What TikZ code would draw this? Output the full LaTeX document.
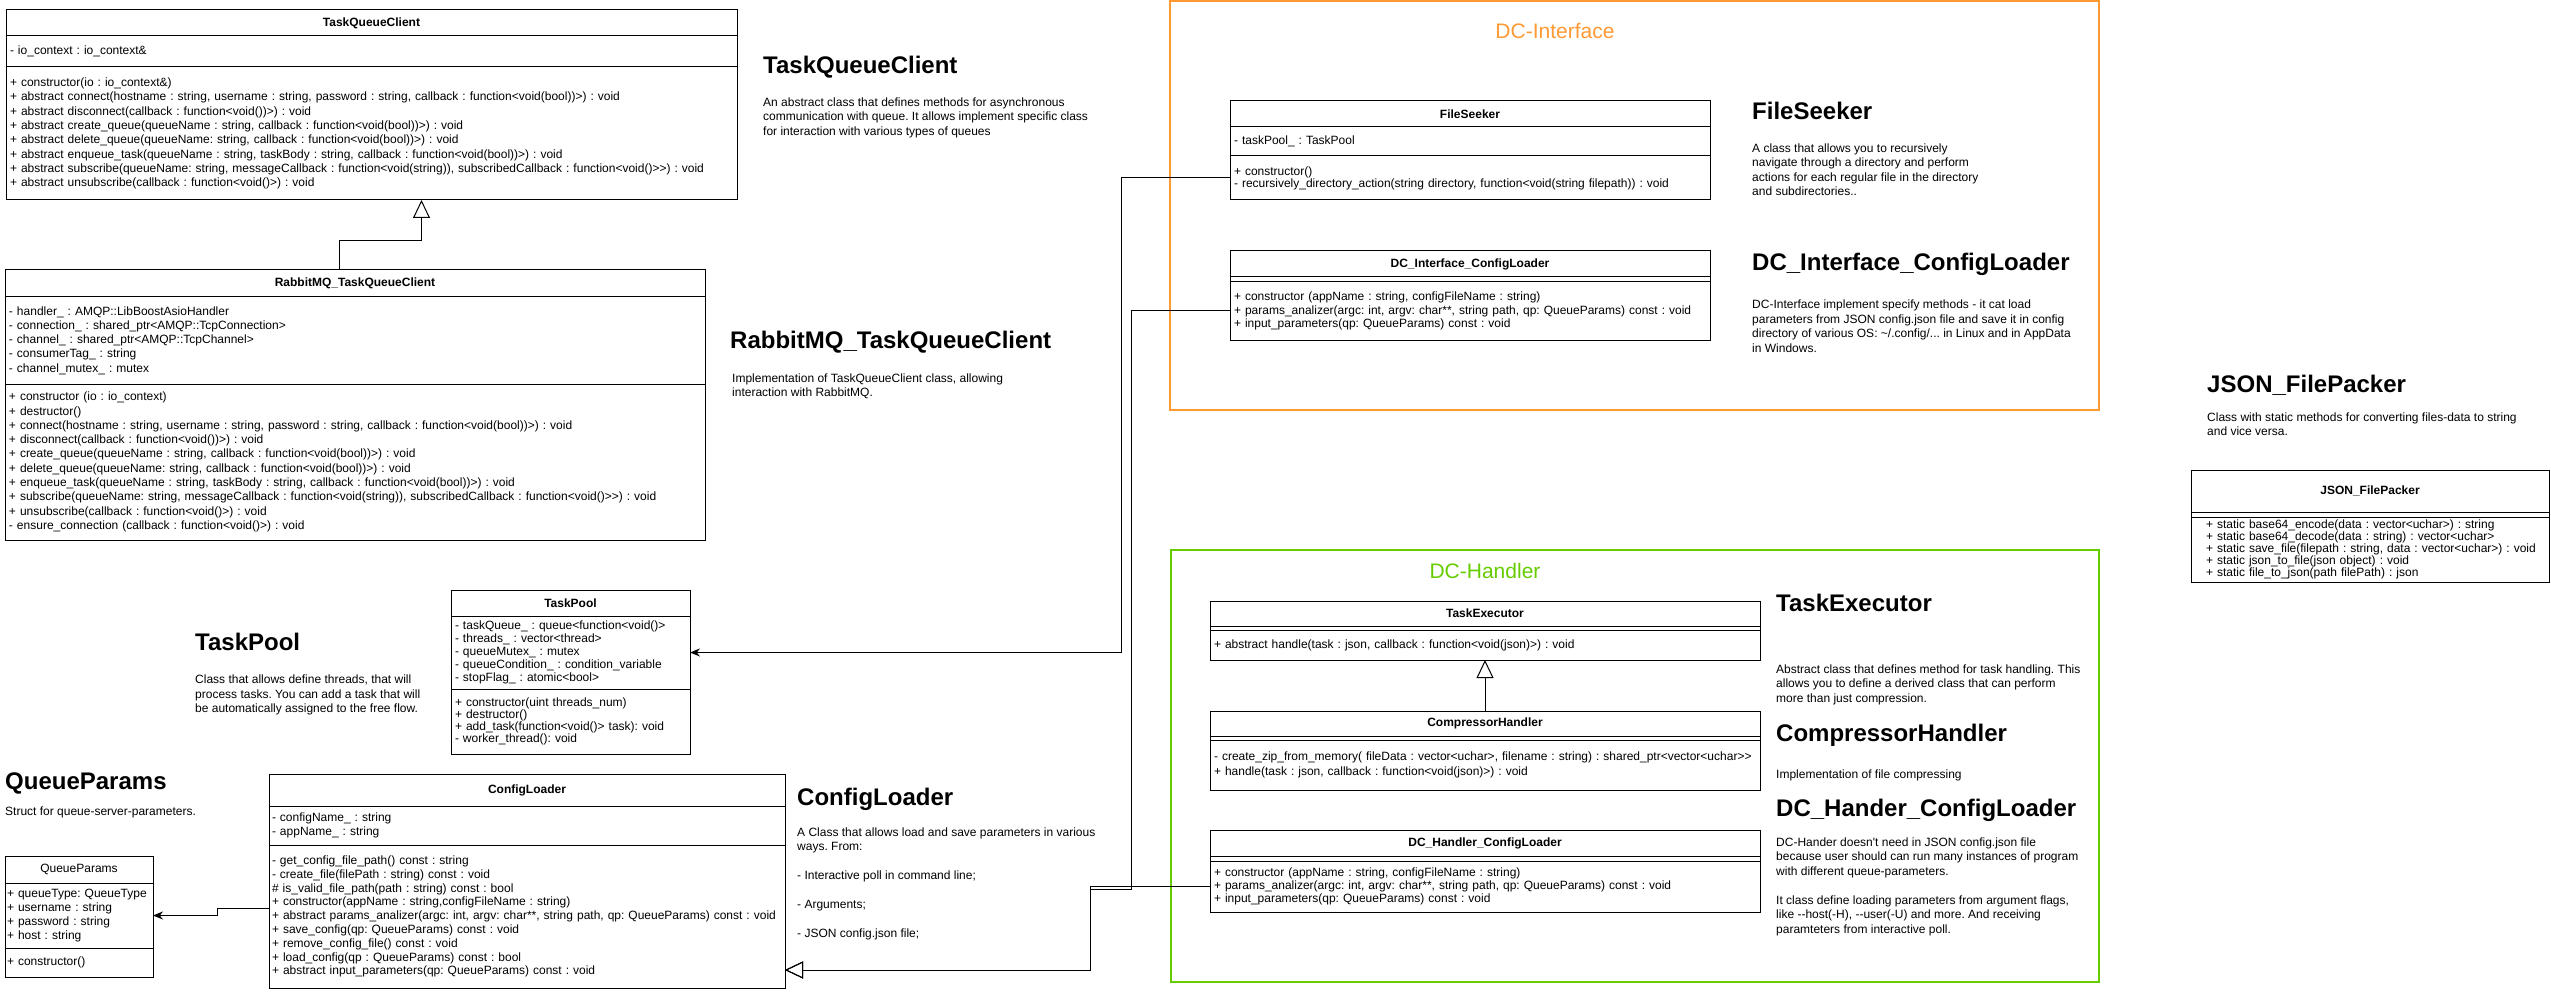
\documentclass[tikz,border=0pt]{standalone}
\usepackage{fontspec}
\setmainfont{Liberation Sans}[Ligatures=TeXOff]
\usetikzlibrary{arrows.meta,positioning}
\definecolor{dcorange}{RGB}{255,153,51}
\definecolor{dcgreen}{RGB}{102,204,0}

\begin{document}
\setlength{\lineskiplimit}{-30pt}
\frenchspacing
\hyphenpenalty=10000
\exhyphenpenalty=10000
\begin{tikzpicture}[x=1pt,y=-1pt]
	\tikzstyle{cls} = [draw, line width=1pt, outer sep=0pt, inner xsep=4pt, inner ysep=0pt, anchor=north west, font=\fontsize{12}{14.3}\selectfont]
	\tikzstyle{members} = [cls, align=left, execute at begin node={\rightskip=0pt plus 1fil minus 60pt}]
	\tikzstyle{title} = [cls, align=center, font=\fontsize{12}{14.3}\selectfont\bfseries]
	\tikzstyle{plaintitle} = [cls, align=center]
	\tikzstyle{heading} = [anchor=base west, inner sep=0pt, font=\fontsize{24}{28}\selectfont\bfseries]
	\tikzstyle{about} = [anchor=north west, inner sep=0pt, align=left, font=\fontsize{12}{14.5}\selectfont]
	\tikzstyle{group} = [draw, line width=1.2pt, anchor=north west, inner sep=0pt, outer sep=0pt]
	\tikzstyle{grouplabel} = [font=\fontsize{21}{25}\selectfont]
	\tikzset{tight/.style={font=\fontsize{12}{#1}\selectfont}}
	\tikzset{inherit/.style={line width=1pt, -{Triangle[open, length=18pt, width=17pt]}}}
	\tikzset{assoc/.style={line width=1pt, -{Stealth[length=10pt, width=8pt]}}}

	\useasboundingbox (0,0) rectangle (2551,992);

	% frames
	\node[group, draw=dcorange, minimum width=929pt, minimum height=409pt] (dcIface) at (1170,1) {};
	\node[grouplabel, text=dcorange] (dcIfaceLabel) at (1555,31) {DC-Interface};
	\node[group, draw=dcgreen, minimum width=928pt, minimum height=432pt] (dcHandler) at (1171,550) {};
	\node[grouplabel, text=dcgreen] (dcHandlerLabel) at (1485,571) {DC-Handler};

	% TaskQueueClient
	\node[title, text width=723pt, minimum height=26pt] (tqcT) at (6,10) {TaskQueueClient};
	\node[members, text width=723pt, minimum height=31pt] (tqcA) at (tqcT.south west) {- io\_context : io\_context\&};
	\node[members, text width=723pt, minimum height=133pt] (tqcM) at (tqcA.south west) {+ constructor(io : io\_context\&)\\
		+ abstract connect(hostname : string, username : string, password : string, callback : function<void(bool))>) : void\\
		+ abstract disconnect(callback : function<void())>) : void\\
		+ abstract create\_queue(queueName : string, callback : function<void(bool))>) : void\\
		+ abstract delete\_queue(queueName: string, callback : function<void(bool))>) : void\\
		+ abstract enqueue\_task(queueName : string, taskBody : string, callback : function<void(bool))>) : void\\
		+ abstract subscribe(queueName: string, messageCallback : function<void(string)), subscribedCallback : function<void()>>) : void\\
		+ abstract unsubscribe(callback : function<void()>) : void};
	\node[heading] (tqcHead) at (763,74) {TaskQueueClient};
	\node[about] (tqcAbout) at (763,97.5) {An abstract class that defines methods for asynchronous\\communication with queue. It allows implement specific class\\for interaction with various types of queues};

	% RabbitMQ_TaskQueueClient
	\node[title, text width=692pt, minimum height=27pt] (rmT) at (5,270) {RabbitMQ\_TaskQueueClient};
	\node[members, text width=692pt, minimum height=87pt] (rmA) at (rmT.south west) {- handler\_ : AMQP::LibBoostAsioHandler\\
		- connection\_ : shared\_ptr<AMQP::TcpConnection>\\
		- channel\_ : shared\_ptr<AMQP::TcpChannel>\\
		- consumerTag\_ : string\\
		- channel\_mutex\_ : mutex};
	\node[members, text width=692pt, minimum height=156pt] (rmM) at (rmA.south west) {+ constructor (io : io\_context)\\
		+ destructor()\\
		+ connect(hostname : string, username : string, password : string, callback : function<void(bool))>) : void\\
		+ disconnect(callback : function<void())>) : void\\
		+ create\_queue(queueName : string, callback : function<void(bool))>) : void\\
		+ delete\_queue(queueName: string, callback : function<void(bool))>) : void\\
		+ enqueue\_task(queueName : string, taskBody : string, callback : function<void(bool))>) : void\\
		+ subscribe(queueName: string, messageCallback : function<void(string)), subscribedCallback : function<void()>>) : void\\
		+ unsubscribe(callback : function<void()>) : void\\
		- ensure\_connection (callback : function<void()>) : void};
	\node[heading] (rmHead) at (730,348) {RabbitMQ\_TaskQueueClient};
	\node[about] (rmAbout) at (732,373.5) {Implementation of TaskQueueClient class, allowing\\interaction with RabbitMQ.};

	% TaskPool
	\node[title, text width=231pt, minimum height=26pt] (tpT) at (451,590) {TaskPool};
	\node[members, tight=13, text width=231pt, minimum height=73pt] (tpA) at (tpT.south west) {- taskQueue\_ : queue<function<void()>\\
		- threads\_ : vector<thread>\\
		- queueMutex\_ : mutex\\
		- queueCondition\_ : condition\_variable\\
		- stopFlag\_ : atomic<bool>};
	\node[members, tight=12, text width=231pt, minimum height=65pt] (tpM) at (tpA.south west) {+ constructor(uint threads\_num)\\
		+ destructor()\\
		+ add\_task(function<void()> task): void\\
		- worker\_thread(): void};
	\node[heading] (tpHead) at (195,650) {TaskPool};
	\node[about] (tpAbout) at (195,675) {Class that allows define threads, that will\\process tasks. You can add a task that will\\be automatically assigned to the free flow.};

	% QueueParams
	\node[plaintitle, text width=140pt, minimum height=27pt] (qpT) at (5,856) {QueueParams};
	\node[members, tight=13.7, inner xsep=2pt, text width=144pt, minimum height=65pt] (qpA) at (qpT.south west) {+ queueType: QueueType\\
		+ username : string\\
		+ password : string\\
		+ host : string};
	\node[members, inner xsep=2pt, text width=144pt, minimum height=29pt] (qpM) at (qpA.south west) {+ constructor()};
	\node[heading] (qpHead) at (5,789) {QueueParams};
	\node[about] (qpAbout) at (5,807) {Struct for queue-server-parameters.};

	% ConfigLoader
	\node[title, text width=508pt, minimum height=32pt] (clT) at (269,774) {ConfigLoader};
	\node[members, tight=14, inner xsep=3pt, text width=510pt, minimum height=39pt] (clA) at (clT.south west) {- configName\_ : string\\
		- appName\_ : string};
	\node[members, tight=13.8, inner xsep=3pt, text width=510pt, minimum height=143pt] (clM) at (clA.south west) {- get\_config\_file\_path() const : string\\
		- create\_file(filePath : string) const : void\\
		\# is\_valid\_file\_path(path : string) const : bool\\
		+ constructor(appName : string,configFileName : string)\\
		+ abstract params\_analizer(argc: int, argv: char**, string path, qp: QueueParams) const : void\\
		+ save\_config(qp: QueueParams) const : void\\
		+ remove\_config\_file() const : void\\
		+ load\_config(qp : QueueParams) const : bool\\
		+ abstract input\_parameters(qp: QueueParams) const : void};
	\node[heading] (clHead) at (797,805) {ConfigLoader};
	\node[about] (clAbout) at (797,827.5) {A Class that allows load and save parameters in various\\ways. From:\\[14.5pt]- Interactive poll in command line;\\[14.5pt]- Arguments;\\[14.5pt]- JSON config.json file;};

	% FileSeeker
	\node[title, text width=472pt, minimum height=26pt] (fsT) at (1230,101) {FileSeeker};
	\node[members, text width=472pt, minimum height=29pt] (fsA) at (fsT.south west) {- taskPool\_ : TaskPool};
	\node[members, tight=11, text width=472pt, minimum height=44pt] (fsM) at (fsA.south west) {+ constructor()\\
		- recursively\_directory\_action(string directory, function<void(string filepath)) : void};
	\node[heading] (fsHead) at (1752,120) {FileSeeker};
	\node[about] (fsAbout) at (1752,143.5) {A class that allows you to recursively\\navigate through a directory and perform\\actions for each regular file in the directory\\and subdirectories..};

	% DC_Interface_ConfigLoader
	\node[title, text width=472pt, minimum height=26pt] (dciT) at (1230,251) {DC\_Interface\_ConfigLoader};
	\node[members, text width=472pt, minimum height=5pt] (dciA) at (dciT.south west) {};
	\node[members, tight=13.5, text width=472pt, minimum height=58pt] (dciM) at (dciA.south west) {+ constructor (appName : string, configFileName : string)\\
		+ params\_analizer(argc: int, argv: char**, string path, qp: QueueParams) const : void\\
		+ input\_parameters(qp: QueueParams) const : void};
	\node[heading] (dciHead) at (1752,271) {DC\_Interface\_ConfigLoader};
	\node[about] (dciAbout) at (1752,300) {DC-Interface implement specify methods - it cat load\\parameters from JSON config.json file and save it in config\\directory of various OS: \textasciitilde/.config/... in Linux and in AppData\\in Windows.};

	% JSON_FilePacker
	\node[title, text width=350pt, minimum height=42pt] (jfpT) at (2191,470) {JSON\_FilePacker};
	\node[members, text width=350pt, minimum height=5pt] (jfpA) at (jfpT.south west) {};
	\node[members, tight=10.5, inner xsep=15pt, text width=328pt, minimum height=65pt] (jfpM) at (jfpA.south west) {+ static base64\_encode(data : vector<uchar>) : string\\
		+ static base64\_decode(data : string) : vector<uchar>\\
		+ static save\_file(filepath : string, data : vector<uchar>) : void\\
		+ static json\_to\_file(json object) : void\\
		+ static file\_to\_json(path filePath) : json};
	\node[heading] (jfpHead) at (2207,392) {JSON\_FilePacker};
	\node[about] (jfpAbout) at (2207,412.5) {Class with static methods for converting files-data to string\\and vice versa.};

	% TaskExecutor
	\node[title, text width=542pt, minimum height=25pt] (teT) at (1210,601) {TaskExecutor};
	\node[members, text width=542pt, minimum height=4pt] (teA) at (teT.south west) {};
	\node[members, text width=542pt, minimum height=30pt] (teM) at (teA.south west) {+ abstract handle(task : json, callback : function<void(json)>) : void};
	\node[heading] (teHead) at (1776,611) {TaskExecutor};
	\node[about] (teAbout) at (1776,664.5) {Abstract class that defines method for task handling. This\\allows you to define a derived class that can perform\\more than just compression.};

	% CompressorHandler
	\node[title, text width=542pt, minimum height=25pt] (chT) at (1210,711) {CompressorHandler};
	\node[members, text width=542pt, minimum height=4pt] (chA) at (chT.south west) {};
	\node[members, text width=542pt, minimum height=50pt] (chM) at (chA.south west) {- create\_zip\_from\_memory( fileData : vector<uchar>, filename : string) : shared\_ptr<vector<uchar>>\\
		+ handle(task : json, callback : function<void(json)>) : void};
	\node[heading] (chHead) at (1776,741) {CompressorHandler};
	\node[about] (chAbout) at (1776,769.5) {Implementation of file compressing};

	% DC_Handler_ConfigLoader
	\node[title, text width=542pt, minimum height=26pt] (dchT) at (1210,830) {DC\_Handler\_ConfigLoader};
	\node[members, text width=542pt, minimum height=5pt] (dchA) at (dchT.south west) {};
	\node[members, tight=13, text width=542pt, minimum height=51pt] (dchM) at (dchA.south west) {+ constructor (appName : string, configFileName : string)\\
		+ params\_analizer(argc: int, argv: char**, string path, qp: QueueParams) const : void\\
		+ input\_parameters(qp: QueueParams) const : void};
	\node[heading] (dchHead) at (1776,816) {DC\_Hander\_ConfigLoader};
	\node[about] (dchAbout) at (1776,837.5) {DC-Hander doesn't need in JSON config.json file\\because user should can run many instances of program\\with different queue-parameters.\\[14.5pt]It class define loading parameters from argument flags,\\like --host(-H), --user(-U) and more. And receiving\\paramteters from interactive poll.};

	% connectors
	\coordinate (dciBend) at (1131,889);
	\coordinate (cfgJoin) at (1090,970);
	\draw[inherit] ([xshift=-16pt]rmT.north) -- ++(0,-29) -| ([xshift=50pt]tqcM.south);
	\draw[inherit] (chT.north) -- (teM.south);
	\draw[inherit] (dciM.west) -| (dciBend) -| (cfgJoin) -- (cfgJoin -| clM.east);
	\draw[inherit] (dchM.west) -| (cfgJoin) -- (cfgJoin -| clM.east);
	\draw[assoc] (fsM.west) -- ++(-109,0) |- (tpA.east);
	\draw[assoc] ([yshift=8pt]clM.west) -- ++(-52,0) |- (qpA.east);

\end{tikzpicture}
\end{document}
